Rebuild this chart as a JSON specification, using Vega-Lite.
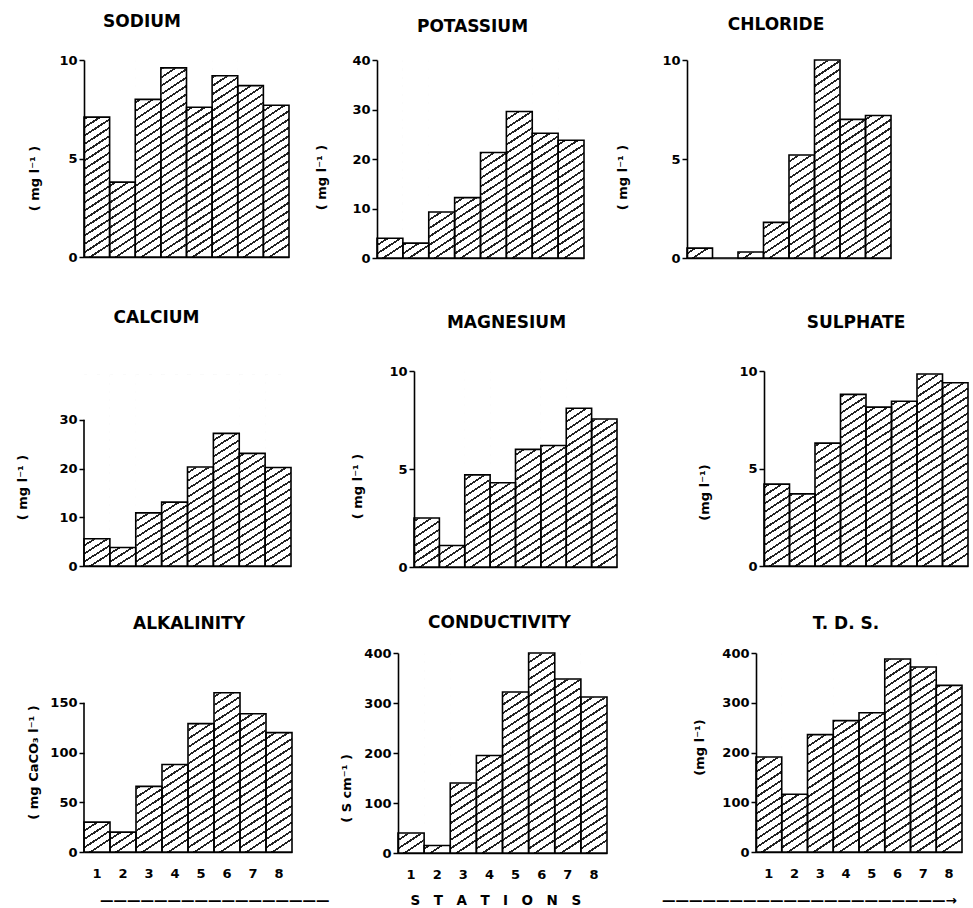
{
"$schema": "https://vega.github.io/schema/vega-lite/v6.json",
"background": "white",
"padding": {"left": 16, "top": 13, "right": 0, "bottom": 0},
"title": {"text": "\u2014\u2014\u2014\u2014\u2014\u2014\u2014\u2014\u2014\u2014\u2014\u2014\u2014\u2014\u2014\u2014\u2014\u2003\u2003\u2003\u2003\u2003\u2003S\u2003T\u2003A\u2003T\u2003I\u2003O\u2003N\u2003S\u2003\u2003\u2003\u2003\u2003\u2003\u2014\u2014\u2014\u2014\u2014\u2014\u2014\u2014\u2014\u2014\u2014\u2014\u2014\u2014\u2014\u2014\u2014\u2014\u2014\u2014\u2014\u2192", "orient": "bottom", "anchor": "start", "dx": 84, "offset": 13, "fontSize": 13.5},
"data": {"values": [
{"p":"SODIUM","s":1,"v":7.1},{"p":"SODIUM","s":2,"v":3.8},{"p":"SODIUM","s":3,"v":8.0},{"p":"SODIUM","s":4,"v":9.6},{"p":"SODIUM","s":5,"v":7.6},{"p":"SODIUM","s":6,"v":9.2},{"p":"SODIUM","s":7,"v":8.7},{"p":"SODIUM","s":8,"v":7.7},
{"p":"POTASSIUM","s":1,"v":4},{"p":"POTASSIUM","s":2,"v":3},{"p":"POTASSIUM","s":3,"v":9.3},{"p":"POTASSIUM","s":4,"v":12.2},{"p":"POTASSIUM","s":5,"v":21.3},{"p":"POTASSIUM","s":6,"v":29.6},{"p":"POTASSIUM","s":7,"v":25.2},{"p":"POTASSIUM","s":8,"v":23.8},
{"p":"CHLORIDE","s":1,"v":0.5},{"p":"CHLORIDE","s":2,"v":0},{"p":"CHLORIDE","s":3,"v":0.3},{"p":"CHLORIDE","s":4,"v":1.8},{"p":"CHLORIDE","s":5,"v":5.2},{"p":"CHLORIDE","s":6,"v":10},{"p":"CHLORIDE","s":7,"v":7.0},{"p":"CHLORIDE","s":8,"v":7.2},
{"p":"CALCIUM","s":1,"v":5.6},{"p":"CALCIUM","s":2,"v":3.8},{"p":"CALCIUM","s":3,"v":10.9},{"p":"CALCIUM","s":4,"v":13.1},{"p":"CALCIUM","s":5,"v":20.3},{"p":"CALCIUM","s":6,"v":27.2},{"p":"CALCIUM","s":7,"v":23.1},{"p":"CALCIUM","s":8,"v":20.2},
{"p":"MAGNESIUM","s":1,"v":2.5},{"p":"MAGNESIUM","s":2,"v":1.1},{"p":"MAGNESIUM","s":3,"v":4.7},{"p":"MAGNESIUM","s":4,"v":4.3},{"p":"MAGNESIUM","s":5,"v":6.0},{"p":"MAGNESIUM","s":6,"v":6.2},{"p":"MAGNESIUM","s":7,"v":8.1},{"p":"MAGNESIUM","s":8,"v":7.55},
{"p":"SULPHATE","s":1,"v":4.2},{"p":"SULPHATE","s":2,"v":3.7},{"p":"SULPHATE","s":3,"v":6.3},{"p":"SULPHATE","s":4,"v":8.8},{"p":"SULPHATE","s":5,"v":8.15},{"p":"SULPHATE","s":6,"v":8.45},{"p":"SULPHATE","s":7,"v":9.85},{"p":"SULPHATE","s":8,"v":9.4},
{"p":"ALKALINITY","s":1,"v":30},{"p":"ALKALINITY","s":2,"v":20},{"p":"ALKALINITY","s":3,"v":66},{"p":"ALKALINITY","s":4,"v":88},{"p":"ALKALINITY","s":5,"v":129},{"p":"ALKALINITY","s":6,"v":160},{"p":"ALKALINITY","s":7,"v":139},{"p":"ALKALINITY","s":8,"v":120},
{"p":"CONDUCTIVITY","s":1,"v":40},{"p":"CONDUCTIVITY","s":2,"v":15},{"p":"CONDUCTIVITY","s":3,"v":140},{"p":"CONDUCTIVITY","s":4,"v":195},{"p":"CONDUCTIVITY","s":5,"v":322},{"p":"CONDUCTIVITY","s":6,"v":400},{"p":"CONDUCTIVITY","s":7,"v":348},{"p":"CONDUCTIVITY","s":8,"v":312},
{"p":"TDS","s":1,"v":191},{"p":"TDS","s":2,"v":116},{"p":"TDS","s":3,"v":236},{"p":"TDS","s":4,"v":264},{"p":"TDS","s":5,"v":280},{"p":"TDS","s":6,"v":388},{"p":"TDS","s":7,"v":372},{"p":"TDS","s":8,"v":335}
]},
"spacing": 44,
"vconcat": [
{"spacing": 25, "hconcat": [
 {"width": 205, "height": 197, "title": {"text": "SODIUM", "dx": -44.5, "offset": 22.6},
  "transform": [{"filter": "datum.p == 'SODIUM'"}],
  "encoding": {"x": {"field": "s", "type": "ordinal", "title": null, "scale": {"paddingInner": 0, "paddingOuter": 0}}},
  "layer": [
   {"mark": {"type": "bar"}, "encoding": {"y": {"datum": 10, "type": "quantitative", "scale": {"domain": [0, 10]}, "axis": {"zindex": 1, "values": [0, 5, 10], "title": "( mg l\u207b\u00b9 )", "titleX": -50, "titleY": 118}}}},
   {"mark": {"type": "bar", "fill": "#fff", "stroke": "#fff", "strokeWidth": 1}, "encoding": {"y": {"field": "v", "type": "quantitative", "axis": {"zindex": 1, "values": [0, 5, 10], "title": "( mg l\u207b\u00b9 )", "titleX": -50, "titleY": 118}}, "y2": {"datum": 10}}},
   {"mark": {"type": "bar", "fillOpacity": 0, "stroke": "#000", "strokeWidth": 1.6}, "encoding": {"y": {"field": "v", "type": "quantitative", "axis": {"zindex": 1, "values": [0, 5, 10], "title": "( mg l\u207b\u00b9 )", "titleX": -50, "titleY": 118}}}}
  ]},
 {"spacing": 31, "hconcat": [
  {"width": 207, "height": 198, "title": {"text": "POTASSIUM", "dx": -8, "offset": 17.6},
   "transform": [{"filter": "datum.p == 'POTASSIUM'"}],
   "encoding": {"x": {"field": "s", "type": "ordinal", "title": null, "scale": {"paddingInner": 0, "paddingOuter": 0}}},
   "layer": [
    {"mark": {"type": "bar"}, "encoding": {"y": {"datum": 40, "type": "quantitative", "scale": {"domain": [0, 40]}, "axis": {"zindex": 1, "values": [0, 10, 20, 30, 40], "title": "( mg l\u207b\u00b9 )", "titleX": -56, "titleY": 117}}}},
    {"mark": {"type": "bar", "fill": "#fff", "stroke": "#fff", "strokeWidth": 1}, "encoding": {"y": {"field": "v", "type": "quantitative", "axis": {"zindex": 1, "values": [0, 10, 20, 30, 40], "title": "( mg l\u207b\u00b9 )", "titleX": -56, "titleY": 117}}, "y2": {"datum": 40}}},
    {"mark": {"type": "bar", "fillOpacity": 0, "stroke": "#000", "strokeWidth": 1.6}, "encoding": {"y": {"field": "v", "type": "quantitative", "axis": {"zindex": 1, "values": [0, 10, 20, 30, 40], "title": "( mg l\u207b\u00b9 )", "titleX": -56, "titleY": 117}}}}
   ]},
  {"width": 204, "height": 198, "title": {"text": "CHLORIDE", "dx": -13, "offset": 19.6},
   "transform": [{"filter": "datum.p == 'CHLORIDE'"}],
   "encoding": {"x": {"field": "s", "type": "ordinal", "title": null, "scale": {"paddingInner": 0, "paddingOuter": 0}}},
   "layer": [
    {"mark": {"type": "bar"}, "encoding": {"y": {"datum": 10, "type": "quantitative", "scale": {"domain": [0, 10]}, "axis": {"zindex": 1, "values": [0, 5, 10], "title": "( mg l\u207b\u00b9 )", "titleX": -65, "titleY": 117}}}},
    {"mark": {"type": "bar", "fill": "#fff", "stroke": "#fff", "strokeWidth": 1}, "encoding": {"y": {"field": "v", "type": "quantitative", "axis": {"zindex": 1, "values": [0, 5, 10], "title": "( mg l\u207b\u00b9 )", "titleX": -65, "titleY": 117}}, "y2": {"datum": 10}}},
    {"mark": {"type": "bar", "fillOpacity": 0, "stroke": "#000", "strokeWidth": 1.6}, "encoding": {"y": {"field": "v", "type": "quantitative", "axis": {"zindex": 1, "values": [0, 5, 10], "title": "( mg l\u207b\u00b9 )", "titleX": -65, "titleY": 117}}}}
   ]}
 ]}
]},
{"spacing": 40, "vconcat": [
 {"spacing": 59, "hconcat": [
  {"width": 207, "height": 195, "title": {"text": "CALCIUM", "dx": -31, "offset": 43.6},
   "transform": [{"filter": "datum.p == 'CALCIUM'"}],
   "encoding": {"x": {"field": "s", "type": "ordinal", "title": null, "scale": {"paddingInner": 0, "paddingOuter": 0}}},
   "layer": [
    {"mark": {"type": "bar"}, "encoding": {"y": {"datum": 39.26, "type": "quantitative", "scale": {"domain": [0, 39.26]}, "axis": {"zindex": 1, "values": [0, 10, 20, 30], "domain": false, "title": "( mg l\u207b\u00b9 )", "titleX": -62, "titleY": 116}}}},
    {"mark": {"type": "bar", "fill": "#fff", "stroke": "#fff", "strokeWidth": 1}, "encoding": {"y": {"field": "v", "type": "quantitative", "axis": {"zindex": 1, "values": [0, 10, 20, 30], "domain": false, "title": "( mg l\u207b\u00b9 )", "titleX": -62, "titleY": 116}}, "y2": {"datum": 39.26}}},
    {"mark": {"type": "bar", "fillOpacity": 0, "stroke": "#000", "strokeWidth": 1.6}, "encoding": {"y": {"field": "v", "type": "quantitative", "axis": {"zindex": 1, "values": [0, 10, 20, 30], "domain": false, "title": "( mg l\u207b\u00b9 )", "titleX": -62, "titleY": 116}}}},
    {"transform": [{"filter": "datum.s == 1"}], "mark": {"type": "rule", "stroke": "#000", "strokeWidth": 1.6}, "encoding": {"x": {"field": "s", "type": "ordinal", "bandPosition": 0}, "y": {"datum": 0, "type": "quantitative", "axis": {"zindex": 1, "values": [0, 10, 20, 30], "domain": false, "title": "( mg l\u207b\u00b9 )", "titleX": -62, "titleY": 116}}, "y2": {"datum": 30}}}
   ]},
  {"spacing": 80, "hconcat": [
   {"width": 203, "height": 196, "title": {"text": "MAGNESIUM", "dx": -9, "offset": 32.6},
    "transform": [{"filter": "datum.p == 'MAGNESIUM'"}],
    "encoding": {"x": {"field": "s", "type": "ordinal", "title": null, "scale": {"paddingInner": 0, "paddingOuter": 0}}},
    "layer": [
     {"mark": {"type": "bar"}, "encoding": {"y": {"datum": 10, "type": "quantitative", "scale": {"domain": [0, 10]}, "axis": {"zindex": 1, "values": [0, 5, 10], "title": "( mg l\u207b\u00b9 )", "titleX": -57, "titleY": 115}}}},
     {"mark": {"type": "bar", "fill": "#fff", "stroke": "#fff", "strokeWidth": 1}, "encoding": {"y": {"field": "v", "type": "quantitative", "axis": {"zindex": 1, "values": [0, 5, 10], "title": "( mg l\u207b\u00b9 )", "titleX": -57, "titleY": 115}}, "y2": {"datum": 10}}},
     {"mark": {"type": "bar", "fillOpacity": 0, "stroke": "#000", "strokeWidth": 1.6}, "encoding": {"y": {"field": "v", "type": "quantitative", "axis": {"zindex": 1, "values": [0, 5, 10], "title": "( mg l\u207b\u00b9 )", "titleX": -57, "titleY": 115}}}}
    ]},
   {"width": 204, "height": 195, "title": {"text": "SULPHATE", "dx": -10, "offset": 32.6},
    "transform": [{"filter": "datum.p == 'SULPHATE'"}],
    "encoding": {"x": {"field": "s", "type": "ordinal", "title": null, "scale": {"paddingInner": 0, "paddingOuter": 0}}},
    "layer": [
     {"mark": {"type": "bar"}, "encoding": {"y": {"datum": 10, "type": "quantitative", "scale": {"domain": [0, 10]}, "axis": {"zindex": 1, "values": [0, 5, 10], "title": "(mg l\u207b\u00b9)", "titleX": -60, "titleY": 121}}}},
     {"mark": {"type": "bar", "fill": "#fff", "stroke": "#fff", "strokeWidth": 1}, "encoding": {"y": {"field": "v", "type": "quantitative", "axis": {"zindex": 1, "values": [0, 5, 10], "title": "(mg l\u207b\u00b9)", "titleX": -60, "titleY": 121}}, "y2": {"datum": 10}}},
     {"mark": {"type": "bar", "fillOpacity": 0, "stroke": "#000", "strokeWidth": 1.6}, "encoding": {"y": {"field": "v", "type": "quantitative", "axis": {"zindex": 1, "values": [0, 5, 10], "title": "(mg l\u207b\u00b9)", "titleX": -60, "titleY": 121}}}}
    ]}
  ]}
 ]},
 {"spacing": 47, "hconcat": [
  {"width": 208, "height": 199, "title": {"text": "ALKALINITY", "dx": 1, "offset": 19.6},
   "transform": [{"filter": "datum.p == 'ALKALINITY'"}],
   "encoding": {"x": {"field": "s", "type": "ordinal", "title": null, "scale": {"paddingInner": 0, "paddingOuter": 0}, "axis": {"labels": true, "labelPadding": 15, "labelFontSize": 13, "labelAngle": 0}}},
   "layer": [
    {"mark": {"type": "bar"}, "encoding": {"y": {"datum": 199, "type": "quantitative", "scale": {"domain": [0, 199]}, "axis": {"zindex": 1, "values": [0, 50, 100, 150], "domain": false, "title": "( mg CaCO\u2083 l\u207b\u00b9 )", "titleX": -51, "titleY": 109}}}},
    {"mark": {"type": "bar", "fill": "#fff", "stroke": "#fff", "strokeWidth": 1}, "encoding": {"y": {"field": "v", "type": "quantitative", "axis": {"zindex": 1, "values": [0, 50, 100, 150], "domain": false, "title": "( mg CaCO\u2083 l\u207b\u00b9 )", "titleX": -51, "titleY": 109}}, "y2": {"datum": 199}}},
    {"mark": {"type": "bar", "fillOpacity": 0, "stroke": "#000", "strokeWidth": 1.6}, "encoding": {"y": {"field": "v", "type": "quantitative", "axis": {"zindex": 1, "values": [0, 50, 100, 150], "domain": false, "title": "( mg CaCO\u2083 l\u207b\u00b9 )", "titleX": -51, "titleY": 109}}}},
    {"transform": [{"filter": "datum.s == 1"}], "mark": {"type": "rule", "stroke": "#000", "strokeWidth": 1.6}, "encoding": {"x": {"field": "s", "type": "ordinal", "bandPosition": 0}, "y": {"datum": 0, "type": "quantitative", "axis": {"zindex": 1, "values": [0, 50, 100, 150], "domain": false, "title": "( mg CaCO\u2083 l\u207b\u00b9 )", "titleX": -51, "titleY": 109}}, "y2": {"datum": 150}}}
   ]},
  {"spacing": 85, "hconcat": [
   {"width": 209, "height": 200, "title": {"text": "CONDUCTIVITY", "dx": -3, "offset": 14.6},
    "transform": [{"filter": "datum.p == 'CONDUCTIVITY'"}],
    "encoding": {"x": {"field": "s", "type": "ordinal", "title": null, "scale": {"paddingInner": 0, "paddingOuter": 0}, "axis": {"labels": true, "labelPadding": 15, "labelFontSize": 13, "labelAngle": 0}}},
    "layer": [
     {"mark": {"type": "bar"}, "encoding": {"y": {"datum": 400, "type": "quantitative", "scale": {"domain": [0, 400]}, "axis": {"zindex": 1, "values": [0, 100, 200, 300, 400], "title": "( S cm\u207b\u00b9 )", "titleX": -52, "titleY": 135}}}},
     {"mark": {"type": "bar", "fill": "#fff", "stroke": "#fff", "strokeWidth": 1}, "encoding": {"y": {"field": "v", "type": "quantitative", "axis": {"zindex": 1, "values": [0, 100, 200, 300, 400], "title": "( S cm\u207b\u00b9 )", "titleX": -52, "titleY": 135}}, "y2": {"datum": 400}}},
     {"mark": {"type": "bar", "fillOpacity": 0, "stroke": "#000", "strokeWidth": 1.6}, "encoding": {"y": {"field": "v", "type": "quantitative", "axis": {"zindex": 1, "values": [0, 100, 200, 300, 400], "title": "( S cm\u207b\u00b9 )", "titleX": -52, "titleY": 135}}}}
    ]},
   {"width": 206, "height": 199, "title": {"text": "T. D. S.", "dx": -13, "offset": 13.6},
    "transform": [{"filter": "datum.p == 'TDS'"}],
    "encoding": {"x": {"field": "s", "type": "ordinal", "title": null, "scale": {"paddingInner": 0, "paddingOuter": 0}, "axis": {"labels": true, "labelPadding": 15, "labelFontSize": 13, "labelAngle": 0}}},
    "layer": [
     {"mark": {"type": "bar"}, "encoding": {"y": {"datum": 400, "type": "quantitative", "scale": {"domain": [0, 400]}, "axis": {"zindex": 1, "values": [0, 100, 200, 300, 400], "title": "(mg l\u207b\u00b9)", "titleX": -57, "titleY": 94}}}},
     {"mark": {"type": "bar", "fill": "#fff", "stroke": "#fff", "strokeWidth": 1}, "encoding": {"y": {"field": "v", "type": "quantitative", "axis": {"zindex": 1, "values": [0, 100, 200, 300, 400], "title": "(mg l\u207b\u00b9)", "titleX": -57, "titleY": 94}}, "y2": {"datum": 400}}},
     {"mark": {"type": "bar", "fillOpacity": 0, "stroke": "#000", "strokeWidth": 1.6}, "encoding": {"y": {"field": "v", "type": "quantitative", "axis": {"zindex": 1, "values": [0, 100, 200, 300, 400], "title": "(mg l\u207b\u00b9)", "titleX": -57, "titleY": 94}}}}
    ]}
  ]}
 ]}
]}
],
"config": {
 "view": {"stroke": null},
 "font": "DejaVu Sans",
 "axis": {"grid": false, "domainColor": "#000", "domainWidth": 1.6, "tickColor": "#000", "tickWidth": 1.5, "tickSize": 5, "labelColor": "#000", "labelFont": "DejaVu Sans", "labelFontWeight": "bold", "labelFontSize": 13, "titleColor": "#000", "titleFont": "DejaVu Sans", "titleFontWeight": "bold", "titleFontSize": 13},
 "axisX": {"labels": false, "ticks": false, "tickSize": 0, "zindex": 1},
 "axisY": {"titleBaseline": "middle", "titleAlign": "center", "labelPadding": 2},
 "title": {"font": "DejaVu Sans", "fontSize": 17, "fontWeight": "bold", "color": "#000", "anchor": "middle", "baseline": "alphabetic"},
 "bar": {"fill": {"gradient": "linear", "x1": 0, "y1": 0, "x2": 0.09, "y2": 1.05, "stops": [
  {"offset":0,"color":"#222"},{"offset":0.01,"color":"#222"},{"offset":0.01,"color":"#fff"},{"offset":0.04,"color":"#fff"},
  {"offset":0.04,"color":"#222"},{"offset":0.05,"color":"#222"},{"offset":0.05,"color":"#fff"},{"offset":0.08,"color":"#fff"},
  {"offset":0.08,"color":"#222"},{"offset":0.09,"color":"#222"},{"offset":0.09,"color":"#fff"},{"offset":0.12,"color":"#fff"},
  {"offset":0.12,"color":"#222"},{"offset":0.13,"color":"#222"},{"offset":0.13,"color":"#fff"},{"offset":0.16,"color":"#fff"},
  {"offset":0.16,"color":"#222"},{"offset":0.17,"color":"#222"},{"offset":0.17,"color":"#fff"},{"offset":0.2,"color":"#fff"},
  {"offset":0.2,"color":"#222"},{"offset":0.21,"color":"#222"},{"offset":0.21,"color":"#fff"},{"offset":0.24,"color":"#fff"},
  {"offset":0.24,"color":"#222"},{"offset":0.25,"color":"#222"},{"offset":0.25,"color":"#fff"},{"offset":0.28,"color":"#fff"},
  {"offset":0.28,"color":"#222"},{"offset":0.29,"color":"#222"},{"offset":0.29,"color":"#fff"},{"offset":0.32,"color":"#fff"},
  {"offset":0.32,"color":"#222"},{"offset":0.33,"color":"#222"},{"offset":0.33,"color":"#fff"},{"offset":0.36,"color":"#fff"},
  {"offset":0.36,"color":"#222"},{"offset":0.37,"color":"#222"},{"offset":0.37,"color":"#fff"},{"offset":0.4,"color":"#fff"},
  {"offset":0.4,"color":"#222"},{"offset":0.41,"color":"#222"},{"offset":0.41,"color":"#fff"},{"offset":0.44,"color":"#fff"},
  {"offset":0.44,"color":"#222"},{"offset":0.45,"color":"#222"},{"offset":0.45,"color":"#fff"},{"offset":0.48,"color":"#fff"},
  {"offset":0.48,"color":"#222"},{"offset":0.49,"color":"#222"},{"offset":0.49,"color":"#fff"},{"offset":0.52,"color":"#fff"},
  {"offset":0.52,"color":"#222"},{"offset":0.53,"color":"#222"},{"offset":0.53,"color":"#fff"},{"offset":0.56,"color":"#fff"},
  {"offset":0.56,"color":"#222"},{"offset":0.57,"color":"#222"},{"offset":0.57,"color":"#fff"},{"offset":0.6,"color":"#fff"},
  {"offset":0.6,"color":"#222"},{"offset":0.61,"color":"#222"},{"offset":0.61,"color":"#fff"},{"offset":0.64,"color":"#fff"},
  {"offset":0.64,"color":"#222"},{"offset":0.65,"color":"#222"},{"offset":0.65,"color":"#fff"},{"offset":0.68,"color":"#fff"},
  {"offset":0.68,"color":"#222"},{"offset":0.69,"color":"#222"},{"offset":0.69,"color":"#fff"},{"offset":0.72,"color":"#fff"},
  {"offset":0.72,"color":"#222"},{"offset":0.73,"color":"#222"},{"offset":0.73,"color":"#fff"},{"offset":0.76,"color":"#fff"},
  {"offset":0.76,"color":"#222"},{"offset":0.77,"color":"#222"},{"offset":0.77,"color":"#fff"},{"offset":0.8,"color":"#fff"},
  {"offset":0.8,"color":"#222"},{"offset":0.81,"color":"#222"},{"offset":0.81,"color":"#fff"},{"offset":0.84,"color":"#fff"},
  {"offset":0.84,"color":"#222"},{"offset":0.85,"color":"#222"},{"offset":0.85,"color":"#fff"},{"offset":0.88,"color":"#fff"},
  {"offset":0.88,"color":"#222"},{"offset":0.89,"color":"#222"},{"offset":0.89,"color":"#fff"},{"offset":0.92,"color":"#fff"},
  {"offset":0.92,"color":"#222"},{"offset":0.93,"color":"#222"},{"offset":0.93,"color":"#fff"},{"offset":0.96,"color":"#fff"},
  {"offset":0.96,"color":"#222"},{"offset":0.97,"color":"#222"},{"offset":0.97,"color":"#fff"},{"offset":1,"color":"#fff"}
 ]}}
}
}
